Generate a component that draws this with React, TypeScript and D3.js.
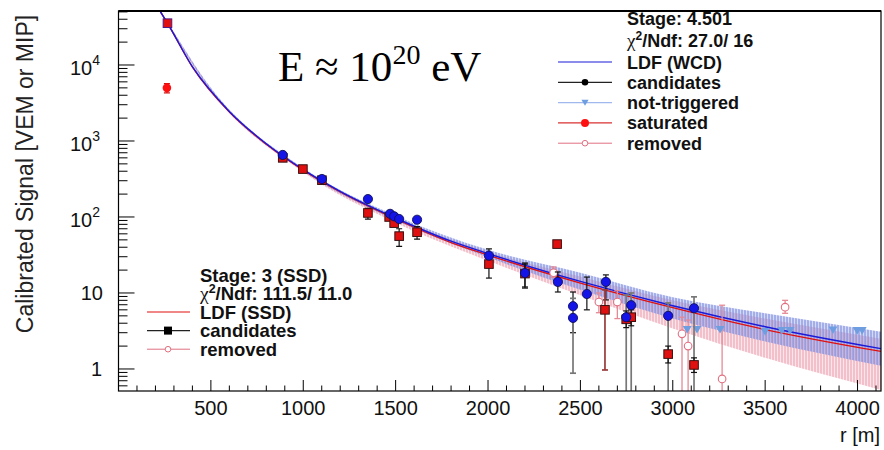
import React from "react";
import * as d3 from "d3";

// ---------------- data ----------------
const ldfR = [215, 265, 400, 600, 800, 1000, 1200, 1500, 1800, 2000, 2500, 3000, 3500, 4127];
const ldfWcd = [56000, 35500, 9500, 2450, 920, 420, 218, 97, 48, 33, 14.2, 6.8, 3.6, 1.85];
const ldfSsd = [56000, 35500, 9400, 2400, 905, 412, 213, 94, 46, 31.5, 13.5, 6.4, 3.3, 1.7];

const bandR = [215, 265, 500, 1000, 1500, 2000, 2500, 3000, 3500, 4127];
const wcdBandHi = [58000, 37000, 5000, 440, 104, 37, 18.5, 8.8, 5.4, 3.1];
const wcdBandLo = [54000, 34000, 4600, 400, 90, 29.5, 11, 4.6, 2.3, 1.1];
const ssdBandHi = [57000, 36500, 4900, 430, 99, 35, 16.5, 8.0, 4.6, 2.5];
const ssdBandLo = [53000, 33500, 4500, 388, 84, 26.5, 9.3, 3.4, 1.4, 0.53];

const wcdR = [889, 1101, 1350, 1470, 1492, 1519, 1616, 2005, 2200, 2378, 2460, 2460, 2535, 2638, 2748, 2775, 2975, 3115];
const wcdS = [655, 316, 172, 110, 102, 94, 92, 31, 18.3, 14, 6.7, 4.7, 9.7, 14, 4.8, 6.9, 5.0, 6.3];
const wcdLo = [620, 300, 160, 102, 95, 87, 85, 26, 11.6, 10.3, 3.0, 0.88, 6.0, 8.1, 0.1, 0.1, 0.1, 0.1];
const wcdHi = [690, 333, 185, 118, 110, 101, 99, 38, 24.8, 18.9, 10.3, 8.5, 16.2, 17.3, 9.4, 10, 7.4, 8.9];

const ssdR = [265, 889, 998, 1101, 1350, 1465, 1492, 1519, 1616, 2005, 2200, 2374, 2633, 2748, 2775, 2975, 3115];
const ssdS = [35500, 600, 427, 305, 113, 100, 83, 56, 63, 24, 18, 44, 6.0, 4.5, 4.8, 1.57, 1.13];
const ssdLo = [33500, 570, 405, 290, 94, 93, 77, 41, 51, 15.7, 12, 41, 0.97, 3.5, 3.7, 1.2, 0.9];
const ssdHi = [37500, 630, 450, 320, 130, 107, 89, 70, 75, 32, 24, 47, 11, 5.8, 6.0, 2.0, 1.4];

const satR = [262];
const satS = [5000];
const satLo = [4300];
const satHi = [5700];

const remR = [2355, 2600, 2700, 3050, 3083, 3267, 3608];
const remS = [18.5, 7.6, 7.6, 2.9, 2.0, 0.74, 6.5];
const remLo = [16, 5.5, 4.6, 0.1, 0.1, 0.1, 5.4];
const remHi = [22, 10, 10.7, 4.8, 4.4, 6.9, 8.0];

const ntR = [3078, 3131, 3256, 3500, 3590, 3635, 3867, 3998, 4025];
const ntS = [3.3, 3.3, 3.3, 3.1, 3.2, 3.2, 3.25, 3.2, 3.2];

const xTicks = [500, 1000, 1500, 2000, 2500, 3000, 3500, 4000];
const yTickExp = [0, 1, 2, 3, 4];

const topLegend = ["LDF (WCD)", "candidates", "not-triggered", "saturated", "removed"];
const bottomLegend = ["LDF (SSD)", "candidates", "removed"];

// ---------------- layout ----------------
const W = 884, H = 450;
const L = 118.5, R = 881, T = 11, B = 391;
const x = d3.scaleLinear().domain([0, 4127]).range([L, R]);
const y = d3.scaleLog().domain([0.513, 51350]).range([B, T]);

const sans = "'Liberation Sans', Arial, Helvetica, sans-serif";
const serif = "'Liberation Serif', 'Times New Roman', serif";

const BLUE = "#1a1ad8";
const RED = "#e01010";

function lineGen(rs: number[], vs: number[]) {
  return d3
    .line<number>()
    .x((_, i) => x(rs[i]))
    .y((_, i) => y(vs[i]))
    .curve(d3.curveMonotoneX)(rs.map((r) => r)) as string;
}
function areaGen(rs: number[], hi: number[], lo: number[]) {
  return d3
    .area<number>()
    .x((_, i) => x(rs[i]))
    .y0((_, i) => y(lo[i]))
    .y1((_, i) => y(hi[i]))
    .curve(d3.curveMonotoneX)(rs.map((r) => r)) as string;
}

function ErrBar({ r, lo, hi, color, w }: { r: number; lo: number; hi: number; color: string; w: number }) {
  const cx = x(r);
  const y1 = y(Math.max(lo, 0.05));
  const y2 = y(hi);
  return (
    <g stroke={color} strokeWidth={w}>
      <line x1={cx} x2={cx} y1={y1} y2={y2} />
      <line x1={cx - 3} x2={cx + 3} y1={y2} y2={y2} />
      {lo > 0.3 && <line x1={cx - 3} x2={cx + 3} y1={y1} y2={y1} />}
    </g>
  );
}

export default function App() {
  const minorX = d3.range(100, 4127, 100).filter((v) => v % 500 !== 0);
  const minorY: number[] = [];
  for (let e = -1; e <= 4; e++) {
    for (let k = 2; k <= 9; k++) {
      const v = k * Math.pow(10, e);
      if (v > 0.513 && v < 51350) minorY.push(v);
    }
  }
  const tri = (cx: number, cy: number, s: number) =>
    `M${cx - s},${cy - s * 0.8}L${cx + s},${cy - s * 0.8}L${cx},${cy + s * 0.9}Z`;

  return (
    <div style={{ position: "absolute", left: 0, top: 0 }}>
      <svg width={W} height={H} style={{ display: "block", background: "#fff" }}>
        <defs>
          <clipPath id="plot">
            <rect x={L} y={T} width={R - L} height={B - T} />
          </clipPath>
          <pattern id="hatchBlue" width="3" height="10" patternUnits="userSpaceOnUse">
            <rect width="3" height="10" fill="rgba(150,165,235,0.4)" />
            <line x1="1" x2="1" y1="0" y2="10" stroke="#7282dc" strokeWidth="1" />
          </pattern>
          <pattern id="hatchPink" width="3" height="10" patternUnits="userSpaceOnUse">
            <rect width="3" height="10" fill="rgba(240,170,185,0.3)" />
            <line x1="2" x2="2" y1="0" y2="10" stroke="#eb9aaa" strokeWidth="1" />
          </pattern>
        </defs>

        {/* bands & curves */}
        <g clipPath="url(#plot)">
          <path d={areaGen(bandR, ssdBandHi, ssdBandLo)} fill="url(#hatchPink)" />
          <path d={areaGen(bandR, wcdBandHi, wcdBandLo)} fill="url(#hatchBlue)" />
          <path d={lineGen(ldfR, ldfSsd)} fill="none" stroke={RED} strokeWidth={1.3} />
          <path d={lineGen(ldfR, ldfWcd)} fill="none" stroke={BLUE} strokeWidth={1.4} />

          {/* removed */}
          {remR.map((r, i) => (
            <g key={"rem" + i}>
              <ErrBar r={r} lo={remLo[i]} hi={remHi[i]} color="#e58a95" w={1.3} />
              <circle cx={x(r)} cy={y(remS[i])} r={3.8} fill="#fff" stroke="#e07080" strokeWidth={1.1} />
            </g>
          ))}

          {/* not triggered */}
          {ntR.map((r, i) => (
            <path key={"nt" + i} d={tri(x(r), y(ntS[i]), 4.5)} fill="#6f9ee0" />
          ))}

          {/* error bars */}
          {wcdR.map((r, i) => (
            <ErrBar
              key={"we" + i}
              r={r}
              lo={wcdLo[i]}
              hi={wcdHi[i]}
              color={wcdLo[i] / wcdS[i] < 0.3 ? "#777" : "#111"}
              w={wcdLo[i] / wcdS[i] < 0.3 ? 1.7 : 1.2}
            />
          ))}
          {ssdR.map((r, i) => (
            <ErrBar
              key={"se" + i}
              r={r}
              lo={ssdLo[i]}
              hi={ssdHi[i]}
              color={ssdLo[i] / ssdS[i] < 0.3 ? "#9a3a3a" : "#111"}
              w={ssdLo[i] / ssdS[i] < 0.3 ? 1.7 : 1.2}
            />
          ))}
          {satR.map((r, i) => (
            <ErrBar key={"sae" + i} r={r} lo={satLo[i]} hi={satHi[i]} color="#d01010" w={1.2} />
          ))}

          {/* SSD squares */}
          {ssdR.map((r, i) => (
            <rect
              key={"sq" + i}
              x={x(r) - 4.3}
              y={y(ssdS[i]) - 4.3}
              width={8.6}
              height={8.6}
              fill={RED}
              stroke={i === 0 ? "#4a1a8a" : "#3a1010"}
              strokeWidth={1}
            />
          ))}
          {/* WCD circles */}
          {wcdR.map((r, i) => (
            <circle key={"wc" + i} cx={x(r)} cy={y(wcdS[i])} r={4.6} fill="#1414e6" stroke="#10105a" strokeWidth={0.9} />
          ))}
          {satR.map((r, i) => (
            <circle key={"sat" + i} cx={x(r)} cy={y(satS[i])} r={4.3} fill="#ff1010" />
          ))}
        </g>

        {/* axes frame */}
        <rect x={L} y={T} width={R - L} height={B - T} fill="none" stroke="#000" strokeWidth={1.2} />
        <line x1={L} x2={R} y1={T} y2={T} stroke="#000" strokeWidth={2} />

        {/* x ticks */}
        {xTicks.map((t) => (
          <g key={"xt" + t}>
            <line x1={x(t)} x2={x(t)} y1={B} y2={B - 11} stroke="#000" strokeWidth={1} />
            <text x={x(t)} y={415} textAnchor="middle" fontFamily={sans} fontSize={20} fill="#111">
              {t}
            </text>
          </g>
        ))}
        {minorX.map((t) => (
          <line key={"xm" + t} x1={x(t)} x2={x(t)} y1={B} y2={B - 5.5} stroke="#000" strokeWidth={1} />
        ))}
        <text x={880} y={442} textAnchor="end" fontFamily={sans} fontSize={20} fill="#111">
          r [m]
        </text>

        {/* y ticks */}
        {yTickExp.map((e) => {
          const v = Math.pow(10, e);
          const yy = y(v);
          return (
            <g key={"yt" + e}>
              <line x1={L} x2={L + 16} y1={yy} y2={yy} stroke="#000" strokeWidth={1} />
              {e === 0 && (
                <text x={102} y={yy + 7} textAnchor="end" fontFamily={sans} fontSize={20} fill="#111">
                  1
                </text>
              )}
              {e === 1 && (
                <text x={103} y={yy + 7} textAnchor="end" fontFamily={sans} fontSize={20} fill="#111">
                  10
                </text>
              )}
              {e >= 2 && (
                <text x={100} y={yy + 10} textAnchor="end" fontFamily={sans} fontSize={20} fill="#111">
                  10
                  <tspan fontSize={14} dy={-10}>
                    {e}
                  </tspan>
                </text>
              )}
            </g>
          );
        })}
        {minorY.map((v, i) => (
          <line key={"ym" + i} x1={L} x2={L + 9} y1={y(v)} y2={y(v)} stroke="#000" strokeWidth={1} />
        ))}
        <text
          transform={`translate(33,174) rotate(-90)`}
          textAnchor="middle"
          fontFamily={sans}
          fontSize={23}
          fill="#222"
        >
          Calibrated Signal [VEM or MIP]
        </text>

        {/* energy label */}
        <text x={278} y={81} fontFamily={serif} fontSize={43} fill="#000">
          E ≈ 10
          <tspan fontSize={28} dy={-17}>20</tspan>
          <tspan dy={17}> eV</tspan>
        </text>

        {/* top legend */}
        <g fontFamily={sans} fontWeight="bold" fontSize={18} fill="#111">
          <text x={627} y={24.5}>Stage: 4.501</text>
          <text x={627} y={46.5}>
            <tspan fontFamily={serif} fontWeight="normal" fontSize={19}>χ</tspan>
            <tspan fontSize={12} dy={-7}>2</tspan>
            <tspan dy={7}>/Ndf: 27.0/ 16</tspan>
          </text>
          {topLegend.map((s, i) => {
            const cy = 62 + i * 20.3;
            return (
              <g key={"tl" + i}>
                <text x={627} y={cy + 6.5}>{s}</text>
              </g>
            );
          })}
        </g>
        {(() => {
          const cy = (i: number) => 62 + i * 20.3;
          return (
            <g>
              <line x1={558} x2={612} y1={cy(0)} y2={cy(0)} stroke={BLUE} strokeWidth={1.2} />
              <line x1={558} x2={612} y1={cy(1)} y2={cy(1)} stroke="#222" strokeWidth={1.2} />
              <circle cx={585} cy={cy(1)} r={3.3} fill="#000" />
              <line x1={558} x2={612} y1={cy(2)} y2={cy(2)} stroke="#9fb8ee" strokeWidth={1.2} />
              <path d={tri(585, cy(2), 3.6)} fill="#6f9ee0" />
              <line x1={558} x2={612} y1={cy(3)} y2={cy(3)} stroke="#d83030" strokeWidth={1.2} />
              <circle cx={585} cy={cy(3)} r={4} fill="#ff1010" />
              <line x1={558} x2={612} y1={cy(4)} y2={cy(4)} stroke="#e07080" strokeWidth={1} />
              <circle cx={585} cy={cy(4)} r={2.8} fill="#fff" stroke="#e07080" strokeWidth={1} />
            </g>
          );
        })()}

        {/* bottom legend */}
        <g fontFamily={sans} fontWeight="bold" fontSize={18.5} fill="#111">
          <text x={200} y={281.5}>Stage: 3 (SSD)</text>
          <text x={200} y={300}>
            <tspan fontFamily={serif} fontWeight="normal" fontSize={19.5}>χ</tspan>
            <tspan fontSize={12.5} dy={-7}>2</tspan>
            <tspan dy={7}>/Ndf: 111.5/ 11.0</tspan>
          </text>
          {bottomLegend.map((s, i) => (
            <text key={"bl" + i} x={200} y={312 + i * 18.6 + 6.8}>
              {s}
            </text>
          ))}
        </g>
        {(() => {
          const cy = (i: number) => 312 + i * 18.6;
          return (
            <g>
              <line x1={147} x2={190} y1={cy(0)} y2={cy(0)} stroke={RED} strokeWidth={1.2} />
              <line x1={147} x2={190} y1={cy(1)} y2={cy(1)} stroke="#222" strokeWidth={1.2} />
              <rect x={164} y={cy(1) - 4} width={8} height={8} fill="#000" />
              <line x1={147} x2={190} y1={cy(2)} y2={cy(2)} stroke="#e07080" strokeWidth={1} />
              <circle cx={168} cy={cy(2)} r={2.8} fill="#fff" stroke="#e07080" strokeWidth={1} />
            </g>
          );
        })()}
      </svg>
    </div>
  );
}
